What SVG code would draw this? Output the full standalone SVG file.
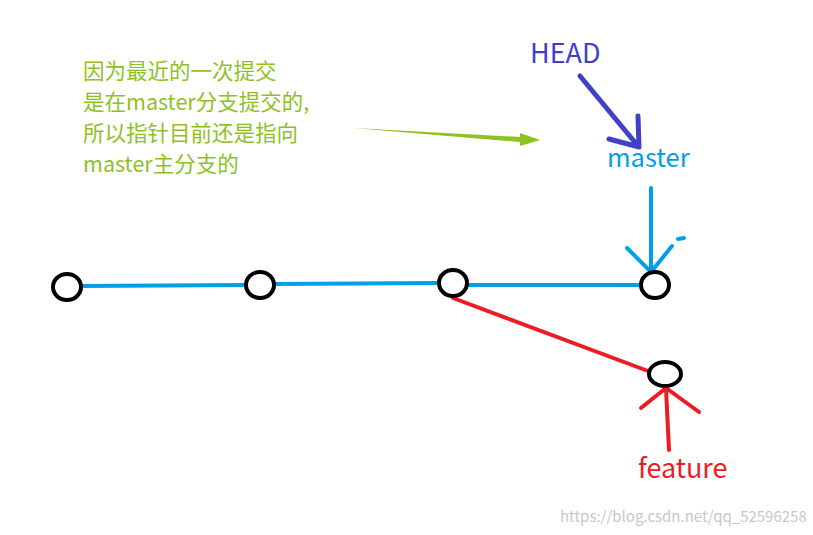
<svg xmlns="http://www.w3.org/2000/svg" width="813" height="535" viewBox="0 0 813 535">
<style>
.n{fill:none;stroke:#000;stroke-width:4}
.b{stroke:#00a0e9;stroke-width:4;fill:none;stroke-linecap:round}
.r{stroke:#ed1c24;stroke-width:4;fill:none;stroke-linecap:round}
.h{stroke:#4040c8;stroke-width:5;fill:none;stroke-linecap:round}
text{font-family:"Noto Sans CJK SC","Noto Sans",sans-serif}
</style>
<rect width="813" height="535" fill="#fff"/>
<g id="connectors">
<line class="b" x1="81" y1="286" x2="246" y2="285"/>
<line class="b" x1="274" y1="284" x2="439" y2="283"/>
<line class="b" x1="467" y1="285" x2="641" y2="285"/>
<path class="r" d="M453 298 L648 371"/>
<path class="h" d="M580 76 L638 146 M638 116 L639 147 M609 139 L639 147"/>
<path class="b" d="M651 188 L651 272 M627 248 L651 272 L672 246"/>
<path d="M678 239 L684 238" stroke="#00a0e9" stroke-width="4" stroke-linecap="round"/>
<path class="r" d="M669 450 L666 389 M641 408 L666 388 L699 412"/>
<path d="M353 128 L520 137 L520 133 L540 140 L520 146 L520 142 Z" fill="#8dc21f"/>
</g>
<g id="n1"><ellipse class="n" cx="67" cy="287" rx="14" ry="13"/></g>
<g id="n2"><ellipse class="n" cx="260" cy="285" rx="14" ry="13"/></g>
<g id="n3"><ellipse class="n" cx="453" cy="283" rx="14" ry="13"/></g>
<g id="n4"><ellipse class="n" cx="655" cy="285" rx="14" ry="13"/></g>
<g id="n5"><ellipse class="n" cx="665" cy="374" rx="16" ry="12"/></g>
<g id="labels">
<g fill="#8dc21f" font-size="21.5">
<text x="83" y="79">因为最近的一次提交</text>
<text x="83" y="110">是在master分支提交的,</text>
<text x="83" y="141">所以指针目前还是指向</text>
<text x="83" y="172">master主分支的</text>
</g>
<text x="530" y="63" font-size="27" fill="#4040c8">HEAD</text>
<text x="607" y="167" font-size="25.5" fill="#00a0e9">master</text>
<text x="638" y="478" font-size="27" fill="#ed1c24">feature</text>
<text x="560" y="522" font-size="15" fill="#c8c8c8">https://blog.csdn.net/qq_52596258</text>
</g>
</svg>
